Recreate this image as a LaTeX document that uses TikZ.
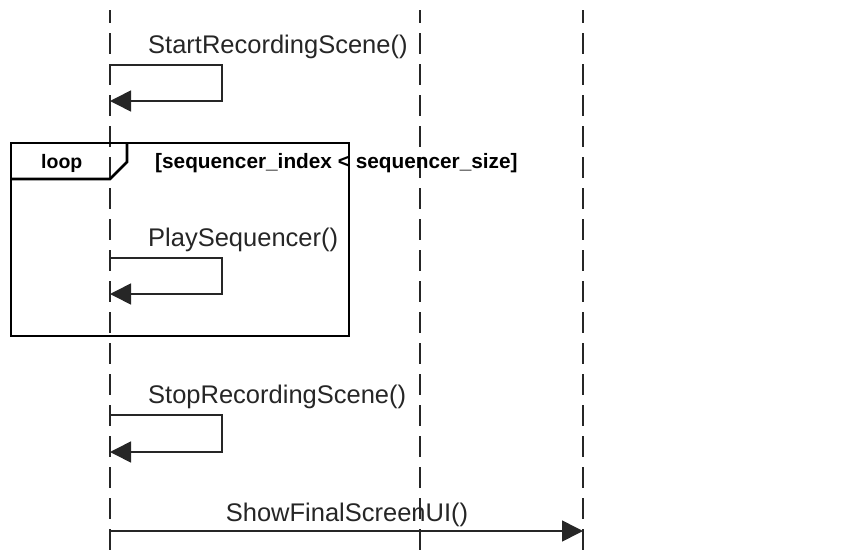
\documentclass[tikz,border=0pt]{standalone}
\usepackage{fontspec}
\setmainfont{Liberation Sans}
\usetikzlibrary{arrows.meta}

\begin{document}
\begin{tikzpicture}[x=1pt,y=-1pt,
  lifeline/.style={draw=black!85, line width=2pt, dash pattern=on 21pt off 10pt, dash phase=8pt},
  msg/.style={draw=black!85, line width=1.6pt, -{Triangle[length=21pt,width=21pt]}},
  msgtext/.style={font=\fontsize{25.5}{30}\selectfont, text=black!85, inner sep=0pt, anchor=base west},
  frame/.style={draw=black, line width=2.6pt},
  framelabel/.style={font=\fontsize{19.5}{24}\selectfont\bfseries, inner sep=0pt, anchor=base west}]

\useasboundingbox (0,0) rectangle (846,554);

% lifelines
\foreach \n/\x in {la/110, lb/420, lc/583} {
  \coordinate (\n-top) at (\x,10);
  \coordinate (\n-bot) at (\x,554);
  \draw[lifeline] (\n-top) -- (\n-bot);
}

% self call: StartRecordingScene()
\coordinate (s1a) at (110,65);
\coordinate (s1b) at (110,101);
\draw[msg] (s1a) -- ++(112,0) |- (s1b);
\node[msgtext] (t1) at (148,53) {StartRecordingScene()};

% loop combined fragment
\coordinate (fr-nw) at (11,143);
\coordinate (fr-se) at (349,336);
\draw[frame] (fr-nw) rectangle (fr-se);
\draw[frame] (11,179) -- (110,179) -- (127,162) -- (127,143);
\node[framelabel] (loop) at (41,168) {loop};
\node[framelabel, font=\fontsize{20.8}{24}\selectfont\bfseries] (guard) at (155,168) {[sequencer\_index < sequencer\_size]};

% self call: PlaySequencer()
\coordinate (s2a) at (110,258);
\coordinate (s2b) at (110,294);
\draw[msg] (s2a) -- ++(112,0) |- (s2b);
\node[msgtext] (t2) at (148,246) {PlaySequencer()};

% self call: StopRecordingScene()
\coordinate (s3a) at (110,415);
\coordinate (s3b) at (110,452);
\draw[msg] (s3a) -- ++(112,0) |- (s3b);
\node[msgtext] (t3) at (148,403) {StopRecordingScene()};

% call to the third lifeline
\coordinate (m4a) at (110,531);
\coordinate (m4b) at (583,531);
\draw[msg] (m4a) -- (m4b);
\node[msgtext, anchor=base] (t4) at (347,521) {ShowFinalScreenUI()};

\end{tikzpicture}
\end{document}
